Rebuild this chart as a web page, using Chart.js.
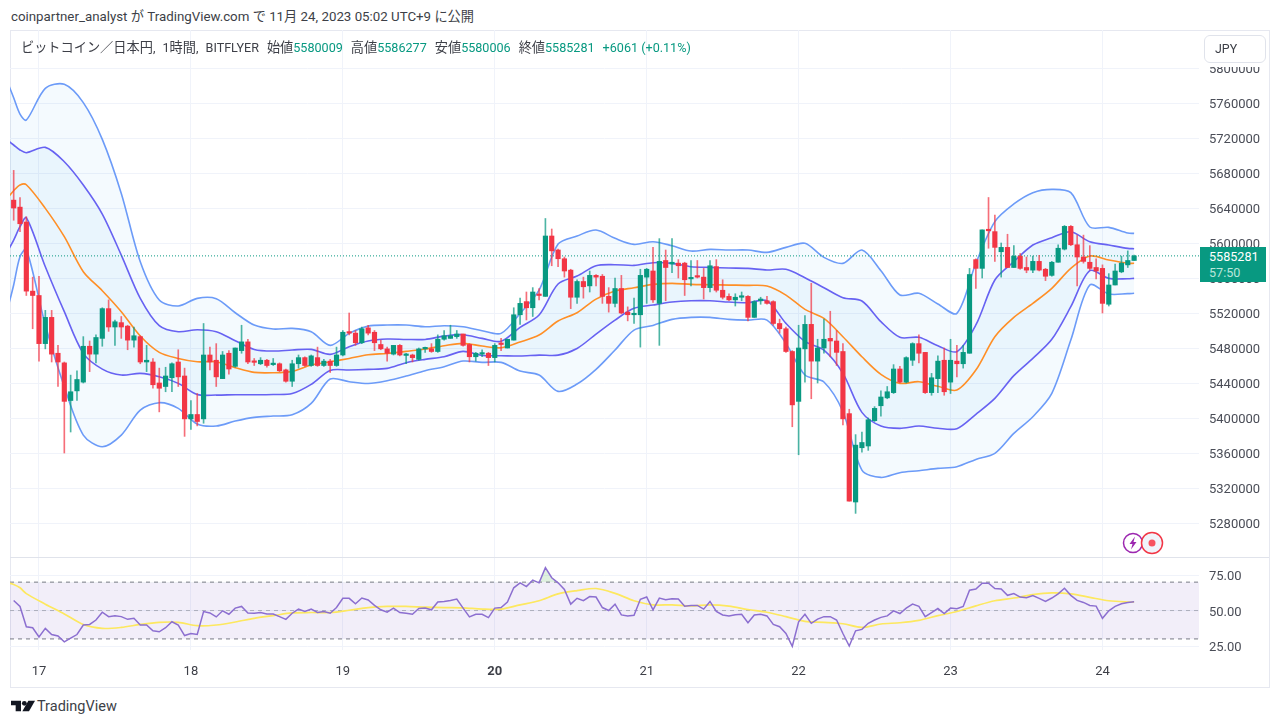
<!DOCTYPE html>
<html lang="ja">
<head>
<meta charset="utf-8">
<title>BTCJPY</title>
<script src="https://cdn.jsdelivr.net/npm/chart.js@4"></script>
<style>
    html, body { margin: 0; padding: 0; background: #fff; }
    body { width: 1280px; height: 726px; position: relative; overflow: hidden;
           font-family: Roboto, "Noto Sans CJK JP", sans-serif; color: #4a4d57; }
    .j { font-size: 13.2px; }
    #published { position: absolute; left: 11px; top: 9px; font-size: 13.3px; line-height: 16px; white-space: nowrap; color: #3d3f47; }
    #card { position: absolute; left: 10px; top: 30px; width: 1258px; height: 656px; border: 1px solid #e6e8f0; }
    #sep { position: absolute; left: 10px; top: 557px; width: 1259px; height: 1px; background: #e0e3eb; }
    canvas { position: absolute; left: 10px; }
    #priceChart { top: 30px; }
    #rsiChart { top: 557px; }
    #legend { position: absolute; left: 21px; top: 40px; font-size: 12.6px; line-height: 16px; white-space: nowrap; color: #3d3f47; }
    #legend b { font-weight: 400; color: #089981; }
    #legend i { font-style: normal; margin-left: 8px; }
    #symbol { word-spacing: 4px; }
    #unit { position: absolute; left: 1204px; top: 35px; width: 60px; height: 26px; border: 1px solid #e0e3eb; border-radius: 6px;
            background: #fff; font-size: 12.4px; line-height: 26px; text-indent: 10px; color: #3d3f47; box-shadow: 0 4px 0 #fff; }
    #lastLabel { position: absolute; left: 1200px; top: 247px; width: 66px; height: 35px; background: #089981; color: #fff;
                 font-size: 12.6px; line-height: 16px; text-indent: 9px; padding-top: 2px; box-sizing: border-box; }
    #lastLabel span { color: #b9e6da; display: block; }
    #badges { position: absolute; left: 1121px; top: 530px; }
    #logo { position: absolute; left: 11px; top: 699px; }
    #brand { position: absolute; left: 37px; top: 698px; font-size: 14.5px; line-height: 18px; color: #3d3f47; }
</style>
</head>
<body>
<div id="published">coinpartner_analyst <span class="j">が</span> TradingView.com <span class="j">で</span> 11<span class="j">月</span> 24, 2023 05:02 UTC+9 <span class="j">に公開</span></div>
<div id="card"></div>
<canvas id="priceChart" width="1259" height="527"></canvas>
<canvas id="rsiChart" width="1259" height="130"></canvas>
<div id="sep"></div>
<div id="legend"><span id="symbol"><span class="j">ビットコイン／日本円</span>, 1<span class="j">時間</span>, BITFLYER</span><i class="j">始値</i><b>5580009</b><i class="j">高値</i><b>5586277</b><i class="j">安値</i><b>5580006</b><i class="j">終値</i><b>5585281</b><i><b>+6061 (+0.11%)</b></i></div>
<div id="unit">JPY</div>
<div id="lastLabel">5585281<span>57:50</span></div>
<svg id="badges" width="46" height="26" viewBox="0 0 46 26">
    <circle cx="12" cy="13" r="9.5" fill="#fff" stroke="#9c27b0" stroke-width="1.5"/>
    <path d="M14 6.5 L8.5 14 H11.5 L10 19.5 L15.5 12 H12.5 Z" fill="#9c27b0"/>
    <circle cx="31" cy="13" r="10.5" fill="#f0f3fa" stroke="#f23645" stroke-width="1.5"/>
    <circle cx="31" cy="13" r="3.5" fill="#f7525f"/>
</svg>
<svg id="logo" width="24" height="14" viewBox="0 0 36 20">
    <path d="M0 2 H15 V18 H7 V9 H0 Z" fill="#131722"/>
    <circle cx="20" cy="6" r="3.6" fill="#131722"/>
    <path d="M26 2 H36 L27 18 H17 Z" fill="#131722"/>
</svg>
<div id="brand">TradingView</div>

<script>
// candles, thousand yen, one per hour, first one is 4 hours before the 17th
const opens = [5649,5641,5624,5545,5540,5485,5515,5474,5463,5420,5431,5441,5482,5473,5491,5525,5504,5509,5505,5489,5493,5464,5464,5440,5436,5446,5464,5448,5399,5404,5399,5472,5466,5445,5474,5459,5477,5487,5464,5462,5466,5461,5462,5455,5442,5462,
    5469,5460,5469,5460,5465,5460,5472,5498,5497,5486,5503,5498,5484,5479,5473,5483,5471.5,5472,5467,5479,5479,5476,5490,5491,5493,5496,5484,5470,5473,5474,5469,5485,5480,5489,5518,5533,5526,5541,5539,5608,5592,5582,5569,5538,5556,5551,
    5563,5562,5539,5531,5548,5521,5518,5518,5561,5568,5531,5580,5576,5577,5577,5559,5562,5561,5549,5573,5546,5539,5535,5538,5539,5515,5534,5534,5533,5508,5502,5476,5419,5479,5507,5465,5480,5491,5488,5476,5405,5304,5366,
    5368,5397,5414,5423,5429,5456,5441,5466,5485,5475,5429,5445,5466,5441,5465,5462,5474,5581,5571,5615,5613,5590,5595,5572,5585,5572,5569,5579,5570,5563,5578,5593,5619,5598,5584,5578,5572,5571,5530,5552,5567,5575,5580.009];
const closes = [5640,5622,5545,5540,5485,5515,5473,5464,5419,5430,5444,5482,5473,5492,5525,5504,5510,5504,5489,5494,5464,5466,5438,5434,5448,5462,5447,5399,5404,5396,5472,5464,5447,5472,5456,5480,5487,5464,5463.6,5466,5460,5462,5454,5442,5462,5469,
    5460,5471,5460,5465,5460,5472,5498,5497,5486,5502,5497,5486,5479,5474,5483,5472,5473,5469,5479,5480,5476,5490,5494,5494,5496,5483,5470,5474,5474,5469,5483,5484,5490,5518,5531,5526,5544,5540,5608,5591,5582,5568,5538,5556,5550,5563,
    5561,5539,5531,5548,5520,5518,5519,5563,5570,5535,5579,5572,5578,5574,5558,5560,5561,5549,5574,5546,5538,5535,5538,5539,5515,5533,5536,5531,5508,5502,5476,5415,5480,5507,5465,5480,5490,5488,5475,5399,5305,5369,5372,
    5398,5411,5424,5430,5456,5441,5469,5485,5474,5429,5446,5465,5430,5466,5462,5475,5564,5571,5615,5614,5595,5595,5572,5585,5571,5569,5579,5569,5562,5578,5594,5619,5598,5584,5579,5571,5568,5531,5552,5568,5577,5580,5585.281];
const highs = [5683,5652,5630,5561,5562,5523,5523,5483,5464,5449,5454,5493,5488,5495,5526,5535,5512,5516,5506,5504,5494,5483,5468,5457,5458,5463,5478,5457,5420,5428,5508,5481,5485,5476,5477,5480,5506,5490,5468,5469,5467,5468,5463,5456,5466,5472,
    5470,5472,5481,5467,5467,5481,5500,5520,5500,5504,5506,5500,5489,5481,5483,5484,5474,5473,5480,5481,5485,5495,5500,5506,5500,5496,5485,5475,5478,5475,5485,5491,5490,5526,5537,5544,5549,5548,5628,5616,5593,5584,5570,5558,5561,5568,
    5564,5564,5549,5560,5563,5527,5537,5570,5571,5595,5605,5592,5605,5581,5578,5580,5580,5571,5580,5581,5558,5542,5542,5544,5540,5534,5538,5539,5534,5513,5504,5477,5506,5517,5554,5490,5513,5522,5500,5485,5410,5381,5384,
    5400,5413,5431,5436,5461,5459,5470,5486,5495,5475,5451,5471,5480,5490,5483,5483,5571,5582,5615,5652,5632,5600,5610,5597,5588,5584,5585,5586,5571,5579,5598,5620,5620,5609,5609,5597,5582,5575,5565,5576,5585,5591,5586.277];
const lows = [5626,5613,5540,5502,5465,5479,5464,5436,5360,5384,5420,5440,5453,5463,5482,5499,5483,5491,5478,5481,5462,5453,5434,5407,5430,5430,5436,5379,5387,5391,5394,5455,5436,5445,5450,5458,5474,5462,5460,5461,5458,5460,5453,5441,5436,5457,
    5459,5459,5459,5459,5452,5459,5471,5495,5483,5485,5495,5477,5478,5465,5472,5471,5462,5464,5466,5475,5475,5475,5489,5491,5491,5482,5464,5465,5470,5460,5464,5477,5480,5489,5507,5512,5516,5535,5539,5574,5573,5561,5525,5531,5537,5544,
    5551,5531,5521,5527,5519,5511,5508,5481,5531,5532,5483,5534,5566,5560,5540,5551,5560,5536,5544,5544,5536,5534,5528,5534,5511,5515,5530,5530,5506,5497,5475,5390,5358,5441,5422,5440,5474,5470,5460,5392,5305,5291,5361,
    5363,5396,5402,5422,5428,5440,5440,5460,5463,5428,5426,5429,5426,5428,5447,5457,5474,5548,5560,5594,5579,5561,5572,5572,5570,5566,5566,5568,5557,5562,5578,5592,5597,5551,5577,5569,5559,5520,5528,5552,5566,5572,5580.006];

// band lines are read every third hour, same hours for the rsi average
const bandHours = [-5,-4,-3,-2,1,4,7,10,13,16,19,22,25,28,31,34,37,40,43,46,49,52,55,58,61,64,67,70,73,76,79,82,85,88,91,94,97,100,103,106,109,112,115,118,121,124,127,130,133,136,139,142,145,148,151,154,157,160,163,166,169,172,173];
const bbOuterUpper = [5784.4,5766,5747.4,5740.5,5776.7,5781.3,5760.4,5718.4,5656.7,5578.6,5534.8,5528,5536.7,5536.3,5520.3,5506.2,5501.7,5502.4,
    5498.6,5483,5496.7,5505,5506.2,5506.2,5504.3,5505.5,5504.3,5499.8,5496.7,5519.6,5546.2,5598.8,5608,
    5614.8,5605.3,5598.4,5601.5,5596.9,5590.8,5592.7,5592,5592,5589.3,5595,5599.6,5583.6,5576.7,5592,
    5568.4,5540.6,5542.5,5530.3,5519.6,5576.8,5624.4,5644.6,5657.5,5661.3,5657.5,5618.3,5617.9,5611.4,5611];
const bbInnerUpper = [5717.7,5712,5706.3,5703.2,5709.3,5692.9,5666.3,5633.1,5586.2,5536.7,5505.5,5498.6,5500.9,5498.6,5488.3,5478.4,5476.5,5477.7,
    5478.4,5472.7,5481.5,5487.9,5490.2,5489.8,5489.8,5493.6,5495.2,5491,5487.6,5503.6,5517.7,5553.1,5562.2,
    5574,5575.2,5574.4,5577.5,5576.7,5572.9,5572.1,5571.4,5571,5569.1,5569.9,5560.3,5548.9,5537.5,5533.7,
    5510.1,5492.2,5492.2,5482.6,5475.8,5506.3,5557.7,5578.7,5597.7,5606.1,5612.9,5601.5,5597.7,5593.9,5593.5];
const bbBasis = [5651,5659.8,5666.3,5666.6,5639.6,5607.2,5567.2,5545.5,5521.5,5493.7,5475,5468.1,5464.3,5464.3,5457.5,5452.1,5451.7,5453.3,
    5460.5,5464.3,5468.1,5472.3,5473.8,5476.1,5478.8,5482.6,5485.3,5482.2,5480.3,5486.8,5494.8,5510.8,5520.3,
    5535.9,5545.1,5548.9,5552.7,5553.9,5552.7,5552.3,5551.9,5551.6,5550.8,5540.5,5524.1,5513.8,5492.9,5470,
    5449.9,5439.6,5441.5,5436.2,5432,5454.8,5492.9,5515,5531,5548.2,5571,5585.1,5580.6,5576.8,5576.8];
const bbInnerLower = [5590,5603.4,5618.6,5628.9,5572.9,5521.5,5473.8,5455.9,5449.1,5451,5447.2,5439.6,5426.9,5426.2,5426.6,5426.6,5426.9,5428,
    5438.4,5454.4,5454.8,5455.6,5456.7,5463.2,5467,5470,5476.1,5471.5,5471.2,5470.8,5471.9,5471.9,5479.5,
    5495.9,5511.9,5525.3,5529.1,5532.5,5534,5534,5532.5,5531.8,5534,5508.1,5487.5,5477.6,5451,5406.4,
    5390.8,5388.2,5390.8,5388.2,5387.8,5404.2,5422.4,5448.4,5468.2,5489.9,5527.2,5568.4,5559.6,5559.2,5559.6];
const bbOuterLower = [5523.4,5552,5584.3,5592.7,5506.2,5435.7,5380.5,5367.2,5380.5,5409,5417.5,5411,5393.1,5390.8,5396.5,5400.7,5402.2,5403.7,
    5416.7,5444.5,5441.5,5439.5,5442.6,5447.9,5454,5458.6,5465.1,5463.6,5463.6,5453.6,5449.1,5430.4,5438.8,
    5455.6,5477.7,5500.5,5505.8,5512.7,5515,5515,5512.7,5511.9,5511.9,5485.3,5449.1,5441.1,5407.2,5340.5,
    5332.1,5337.5,5339.8,5342.4,5344.3,5352.7,5359.6,5382.4,5401.5,5428.2,5489.1,5552,5541.7,5542.1,5542.5];

// rsi, one per hour like the candles
const rsiValues = [57.1,52.9,38.6,37.9,31.4,37.4,33.1,32.1,27.9,30.5,33.1,39.8,40.2,43.3,48.8,45.7,46.4,45.7,43.8,44.5,39.8,39.8,35.7,35,37.9,42.1,39.8,32.4,33.8,33.1,49.3,48.3,45.5,49.8,47.4,51.7,52.9,48.3,48.1,48.6,47.6,47.6,45.7,43.8,48.1,51,49.3,
    51,48.6,49.3,48.1,52.1,58.6,58.6,54.8,58.8,57.4,53.6,50.5,48.8,51.7,48.6,48.1,47.4,51.4,51.7,50.5,56,56.4,57.1,58.1,51.7,45.5,47.4,47.4,45,51.7,52.1,56,66,69.5,66.9,71.4,69.5,80.2,73.1,69.5,64.8,54.5,58.6,56.9,59.8,59.5,52.1,50,
    54.5,46.9,46.2,46.7,57.9,59.5,50.5,58.8,57.6,58.3,58.1,53.1,53.6,53.6,51,56.4,49.3,46.9,46.2,47.1,47.4,41.4,46.9,47.4,46.2,40.2,38.6,33.8,24.8,42.1,47.4,41,44,45.7,45.7,43.3,33.8,25,35.7,36.7,41,43.3,45.2,46.2,49.8,47.9,51.7,
    54.5,52.9,45.7,48.6,51.4,47.9,51.7,51.2,52.9,64.3,65.2,69.3,69.3,65.5,65.2,60.7,61.9,59.5,59,60.5,58.6,56.4,58.8,61.7,65.7,60.7,57.1,55.7,53.6,53.1,44.5,49.8,52.9,54.8,55.7,56.2];
const rsiAverage = [69.5,68.3,66,61.9,54.5,47.6,40.2,37.4,38.1,40.2,41.7,41.7,39.3,39.8,41.9,44.5,46.4,48.3,
    48.6,48.6,50.2,52.1,52.9,52.9,52.4,52.1,51.9,51,51,54,56.9,61.7,64,65.5,
    62.1,56.9,54,54,53.3,54,53.1,50.7,48.8,45.7,42.4,41.7,40.7,38.1,40.5,41.4,
    43.1,46.4,49.3,53.3,56.9,58.8,61.2,62.4,61.7,59.3,56.9,56,56];

const priceTicks = [5280000,5320000,5360000,5400000,5440000,5480000,5520000,5560000,5600000,5640000,5680000,5720000,5760000,5800000];
const rsiTicks = [25,50,75];
const rsiLevels = [70,50,30];
const dayLabels = ["17","18","19","20","21","22","23","24"];
const lastPrice = 5585281;

const UP = "#089981";
const DOWN = "#f23645";
const GRID = "#f0f3fa";
const AXIS_FONT = { family: "Roboto, sans-serif", size: 13 };
const X_MIN = -4.58, X_MAX = 183.25;

const firstHour = -4;
const hourOf = i => firstHour + i;
const yen = k => k * 1000;
const candleColors = opens.map((o, i) => (closes[i] >= o ? UP : DOWN));
const wickColors = candleColors.map(c => c + "b8");

function bandLine(values, color, width, fill) {
    return {
        type: "line",
        data: bandHours.map((h, i) => ({ x: h, y: yen(values[i]) })),
        borderColor: color,
        borderWidth: width,
        pointRadius: 0,
        tension: 0.3,
        fill: fill || false,
        order: 5
    };
}

function dayAxis(showLabels) {
    return {
        type: "linear",
        min: X_MIN,
        max: X_MAX,
        offset: false,
        afterBuildTicks: s => { s.ticks = dayLabels.map((_, i) => ({ value: i * 24 })); },
        afterFit: s => { s.height = showLabels ? 37 : 0; s.paddingLeft = 0; s.paddingRight = 0; },
        border: { display: false },
        grid: { color: GRID, offset: false, drawTicks: false },
        ticks: {
            display: showLabels,
            padding: 14,
            maxRotation: 0,
            autoSkip: false,
            color: "#3d3f47",
            font: c => ({ ...AXIS_FONT, weight: c.tick && c.tick.value === 72 ? "700" : "400" }),
            callback: v => dayLabels[v / 24]
        }
    };
}

function valueAxis(min, max, tickValues, format) {
    return {
        position: "right",
        min: min,
        max: max,
        afterBuildTicks: s => { s.ticks = tickValues.map(v => ({ value: v })); },
        afterFit: s => { s.width = 70; s.paddingTop = 0; s.paddingBottom = 0; },
        border: { display: false },
        grid: { color: GRID, drawTicks: false },
        ticks: { padding: 10, labelOffset: 2, color: "#4a4d57", font: AXIS_FONT, callback: format }
    };
}

const baseOptions = {
    responsive: false,
    animation: false,
    events: [],
    layout: { padding: 0 },
    plugins: { legend: { display: false }, tooltip: { enabled: false }, filler: { drawTime: "beforeDatasetsDraw" } }
};

new Chart(document.getElementById("priceChart"), {
    type: "bar",
    data: {
        datasets: [
            bandLine(bbOuterUpper, "#6c9bf8", 1.6, { target: 4, above: "rgba(33,150,243,0.05)", below: "rgba(33,150,243,0.05)" }),
            bandLine(bbInnerUpper, "#6762f2", 1.6, { target: 3, above: "rgba(33,150,243,0.05)", below: "rgba(33,150,243,0.05)" }),
            bandLine(bbBasis, "#ff8f26", 1.6),
            bandLine(bbInnerLower, "#6762f2", 1.6),
            bandLine(bbOuterLower, "#6c9bf8", 1.6),
            {
                type: "line",
                data: [{ x: X_MIN, y: lastPrice }, { x: X_MAX, y: lastPrice }],
                borderColor: UP,
                borderWidth: 1,
                borderDash: [1, 2],
                pointRadius: 0,
                order: 4
            },
            {
                data: opens.map((_, i) => ({ x: hourOf(i), y: [yen(lows[i]), yen(highs[i])] })),
                backgroundColor: wickColors,
                barThickness: 1,
                grouped: false,
                borderWidth: 0,
                borderSkipped: false,
                order: 2
            },
            {
                data: opens.map((o, i) => ({ x: hourOf(i), y: [yen(o), yen(closes[i])] })),
                backgroundColor: candleColors,
                barThickness: 4.5,
                grouped: false,
                minBarLength: 1.5,
                borderWidth: 0,
                borderSkipped: false,
                order: 1
            }
        ]
    },
    options: {
        ...baseOptions,
        scales: {
            x: dayAxis(false),
            y: valueAxis(5241143, 5843429, priceTicks, v => String(v))
        }
    }
});

new Chart(document.getElementById("rsiChart"), {
    type: "line",
    data: {
        datasets: [
            {
                data: [{ x: X_MIN, y: rsiLevels[0] }, { x: X_MAX, y: rsiLevels[0] }],
                borderColor: "#787b86",
                borderWidth: 1,
                borderDash: [4, 4],
                pointRadius: 0,
                fill: { target: 2, above: "rgba(126,87,194,0.1)", below: "rgba(126,87,194,0.1)" },
                order: 6
            },
            {
                data: [{ x: X_MIN, y: rsiLevels[1] }, { x: X_MAX, y: rsiLevels[1] }],
                borderColor: "rgba(120,123,134,0.5)",
                borderWidth: 1,
                borderDash: [4, 4],
                pointRadius: 0,
                order: 6
            },
            {
                data: [{ x: X_MIN, y: rsiLevels[2] }, { x: X_MAX, y: rsiLevels[2] }],
                borderColor: "#787b86",
                borderWidth: 1,
                borderDash: [4, 4],
                pointRadius: 0,
                order: 6
            },
            {
                data: bandHours.map((h, i) => ({ x: h, y: rsiAverage[i] })),
                borderColor: "#fde85f",
                borderWidth: 1.7,
                tension: 0.3,
                pointRadius: 0,
                order: 2
            },
            {
                data: rsiValues.map((v, i) => ({ x: hourOf(i), y: v })),
                borderColor: "#8c6fd0",
                borderWidth: 1.5,
                pointRadius: 0,
                fill: { target: { value: rsiLevels[0] }, above: "rgba(76,175,80,0.18)", below: "rgba(0,0,0,0)" },
                order: 1
            }
        ]
    },
    options: {
        ...baseOptions,
        scales: {
            x: dayAxis(true),
            y: valueAxis(22.2, 87.7, rsiTicks, v => v.toFixed(2))
        }
    }
});
</script>
</body>
</html>
